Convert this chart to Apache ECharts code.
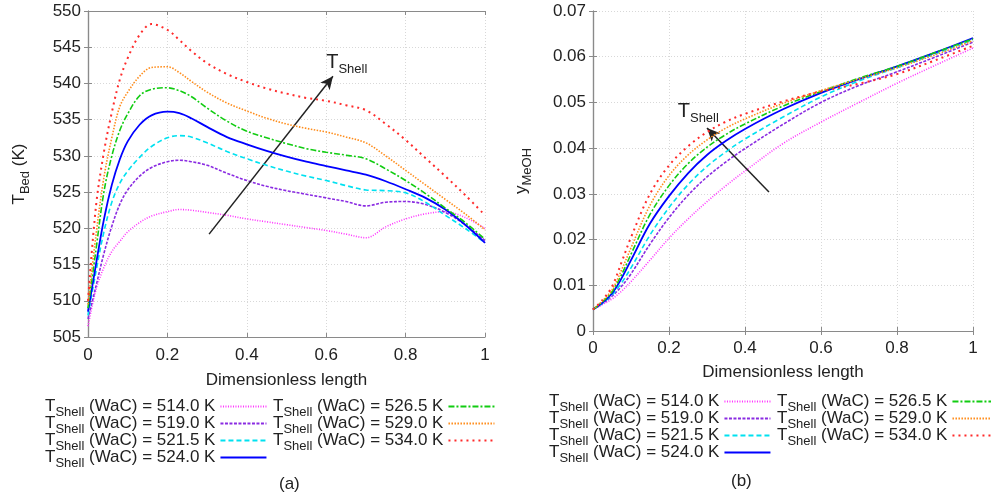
<!DOCTYPE html>
<html><head><meta charset="utf-8">
<script src="https://cdn.jsdelivr.net/npm/echarts@6/dist/echarts.min.js"></script>
<style>html,body{margin:0;padding:0;background:#fff}#c{width:991px;height:498px}</style>
</head><body><div id="c"></div>
<script>
// ---------- data ----------
const shellTemps = ['514.0', '519.0', '521.5', '524.0', '526.5', '529.0', '534.0'];
const xTicks = [0, 0.2, 0.4, 0.6, 0.8, 1];

// (a) bed temperature profiles
const xBed = [0, 0.02, 0.04, 0.06, 0.08, 0.1, 0.13, 0.16, 0.2, 0.23, 0.26, 0.3, 0.35, 0.4, 0.45, 0.5, 0.55, 0.6, 0.65, 0.7, 0.75, 0.8, 0.85, 0.9, 0.95, 1.0];
const tBed514 = [506.5, 511.5, 514.6, 516.8, 518.2, 519.5, 520.8, 521.7, 522.3, 522.6, 522.5, 522.2, 521.8, 521.3, 520.9, 520.5, 520.1, 519.7, 519.2, 518.7, 520.2, 521.3, 522.0, 522.3, 521.5, 520.0];
const tBed519 = [507.5, 512.0, 516.5, 520.3, 523.3, 525.3, 527.2, 528.4, 529.2, 529.4, 529.2, 528.7, 527.6, 526.6, 525.8, 525.2, 524.7, 524.2, 523.7, 523.1, 523.6, 523.7, 523.3, 522.2, 520.5, 518.3];
const tBed521 = [508.0, 514.0, 519.5, 523.6, 526.2, 527.9, 529.8, 531.3, 532.5, 532.8, 532.6, 531.8, 530.6, 529.6, 528.7, 527.9, 527.2, 526.6, 525.9, 525.3, 525.2, 524.9, 523.6, 521.8, 520.0, 518.0];
const tBed524 = [508.5, 515.0, 521.2, 526.0, 529.5, 532.0, 534.3, 535.6, 536.1, 535.9, 535.2, 534.0, 532.6, 531.6, 530.7, 529.9, 529.2, 528.6, 528.0, 527.4, 526.5, 525.4, 524.2, 522.6, 520.5, 518.0];
const tBed526 = [509.0, 517.0, 525.0, 530.0, 533.5, 535.8, 538.3, 539.2, 539.4, 539.0, 538.2, 536.6, 534.8, 533.4, 532.5, 531.7, 531.0, 530.5, 530.1, 529.6, 528.2, 526.6, 524.8, 522.8, 520.8, 518.5];
const tBed529 = [509.5, 519.0, 527.0, 532.5, 536.8, 538.8, 541.0, 542.2, 542.3, 541.5, 540.3, 538.8, 537.3, 536.2, 535.2, 534.4, 533.8, 533.3, 532.6, 531.8, 530.0, 528.0, 526.0, 524.0, 522.0, 519.8];
const tBed534 = [510.0, 523.0, 530.5, 536.0, 540.5, 543.5, 546.7, 548.2, 547.4, 546.0, 544.5, 542.8, 541.3, 540.2, 539.3, 538.6, 538.0, 537.6, 537.0, 536.3, 534.4, 532.2, 529.7, 527.2, 524.6, 521.8];

// (b) methanol mole fraction profiles
const xMeOH = [0, 0.025, 0.05, 0.075, 0.1, 0.15, 0.2, 0.25, 0.3, 0.35, 0.4, 0.5, 0.6, 0.7, 0.8, 0.9, 1.0];
const yMeOH514 = [0.0047, 0.0058, 0.0070, 0.0087, 0.0108, 0.0155, 0.0203, 0.0245, 0.0283, 0.0318, 0.0350, 0.0410, 0.0457, 0.0500, 0.0542, 0.0581, 0.0619];
const yMeOH519 = [0.0047, 0.0060, 0.0076, 0.0098, 0.0125, 0.0190, 0.0248, 0.0297, 0.0337, 0.0370, 0.0399, 0.0452, 0.0500, 0.0537, 0.0567, 0.0599, 0.0632];
const yMeOH521 = [0.0047, 0.0061, 0.0079, 0.0105, 0.0138, 0.0210, 0.0270, 0.0320, 0.0360, 0.0392, 0.0420, 0.0468, 0.0512, 0.0547, 0.0576, 0.0606, 0.0637];
const yMeOH524 = [0.0047, 0.0062, 0.0082, 0.0115, 0.0155, 0.0235, 0.0295, 0.0345, 0.0385, 0.0416, 0.0442, 0.0485, 0.0521, 0.0551, 0.0579, 0.0609, 0.0641];
const yMeOH526 = [0.0047, 0.0064, 0.0086, 0.0123, 0.0168, 0.0255, 0.0318, 0.0366, 0.0402, 0.0430, 0.0453, 0.0492, 0.0524, 0.0553, 0.0579, 0.0609, 0.0639];
const yMeOH529 = [0.0047, 0.0066, 0.0090, 0.0133, 0.0182, 0.0275, 0.0340, 0.0385, 0.0418, 0.0444, 0.0464, 0.0498, 0.0526, 0.0551, 0.0576, 0.0604, 0.0635];
const yMeOH534 = [0.0047, 0.0068, 0.0097, 0.0150, 0.0205, 0.0300, 0.0362, 0.0404, 0.0435, 0.0458, 0.0475, 0.0502, 0.0524, 0.0541, 0.0562, 0.0592, 0.0624];

// arrow annotations (data coordinates)
const arrowBed = [[0.305, 519.2], [0.617, 541.0]];
const arrowBedLabel = [0.60, 542.9];
const arrowMeOH = [[0.463, 0.0304], [0.300, 0.0444]];
const arrowMeOHLabel = [0.223, 0.0480];

// ---------- styles ----------
const FONT = 'Liberation Sans, Arial, Helvetica, sans-serif';
const TXT = '#222';
const colors = ['#ff33ff', '#8a2be2', '#00e1f0', '#0000ff', '#11cc11', '#ff8c1a', '#ff2a2a'];
const dashes = [[1, 1.5], [3, 1.5], [5, 3], 'solid', [6, 2, 2, 2], [1.5, 1.5], [2, 4]];
const widths = [1.6, 1.6, 1.6, 1.8, 1.6, 1.6, 2];
const seriesNames = shellTemps.map(t => 'T_Shell (WaC) = ' + t + ' K');
const bedSets = [tBed514, tBed519, tBed521, tBed524, tBed526, tBed529, tBed534];
const meohSets = [yMeOH514, yMeOH519, yMeOH521, yMeOH524, yMeOH526, yMeOH529, yMeOH534];

const richSub = {
  t: { fontSize: 17, lineHeight: 17, verticalAlign: 'top', color: TXT, fontFamily: FONT },
  m: { fontSize: 17, lineHeight: 17, verticalAlign: 'top', color: TXT, fontFamily: FONT },
  s: { fontSize: 13, lineHeight: 13, padding: [8, 0, 0, 0], verticalAlign: 'top', color: TXT, fontFamily: FONT }
};
const richArrow = {
  t: { fontSize: 20, lineHeight: 20, verticalAlign: 'top', color: TXT, fontFamily: FONT },
  s: { fontSize: 13, lineHeight: 13, padding: [10, 0, 0, 0], verticalAlign: 'top', color: TXT, fontFamily: FONT }
};

function legendFmt(name) {
  const v = name.replace('T_Shell (WaC) = ', '');
  return '{t|T}{s|Shell}{m| (WaC) = ' + v + '}';
}

const gridA = { left: 88, top: 11, width: 397, height: 326 };
const gridB = { left: 593, top: 11, width: 380, height: 320 };

function xAxes(gi, gap, margin) {
  return [{
    gridIndex: gi, type: 'value', min: 0, max: 1, interval: 0.2, position: 'bottom',
    axisLine: { show: true, lineStyle: { color: '#8a8a8a', width: 1.2 } },
    axisTick: { show: true, inside: true, length: 4, lineStyle: { color: '#8a8a8a' } },
    axisLabel: { fontSize: 17, color: TXT, fontFamily: FONT, margin: margin },
    splitLine: { show: true, lineStyle: { color: '#d8d8d8', type: [1, 2] } },
    name: 'Dimensionless length', nameLocation: 'middle', nameGap: gap,
    nameTextStyle: { fontSize: 17, color: TXT, fontFamily: FONT }
  }, {
    gridIndex: gi, type: 'value', min: 0, max: 1, interval: 0.2, position: 'top',
    axisLine: { show: true, lineStyle: { color: '#8a8a8a', width: 1.2 } },
    axisTick: { show: true, inside: true, length: 4, lineStyle: { color: '#8a8a8a' } },
    axisLabel: { show: false }, splitLine: { show: false }
  }];
}
function yAxes(gi, min, max, interval, nameRich, gap) {
  return [{
    gridIndex: gi, type: 'value', min: min, max: max, interval: interval, position: 'left',
    axisLine: { show: true, lineStyle: { color: '#8a8a8a', width: 1.2 } },
    axisTick: { show: true, inside: true, length: 4, lineStyle: { color: '#8a8a8a' } },
    axisLabel: { fontSize: 17, color: TXT, fontFamily: FONT, margin: 7 },
    splitLine: { show: true, lineStyle: { color: '#d8d8d8', type: [1, 2] } },
    name: nameRich, nameLocation: 'middle', nameGap: gap,
    nameTextStyle: { fontSize: 17, color: TXT, fontFamily: FONT, rich: richSub }
  }, {
    gridIndex: gi, type: 'value', min: min, max: max, interval: interval, position: 'right',
    axisLine: { show: true, lineStyle: { color: '#8a8a8a', width: 1.2 } },
    axisTick: { show: true, inside: true, length: 4, lineStyle: { color: '#8a8a8a' } },
    axisLabel: { show: false }, splitLine: { show: false }
  }];
}

const series = [];
seriesNames.forEach((name, i) => {
  const ls = { color: colors[i], width: widths[i], type: dashes[i] };
  const sA = {
    name: name, type: 'line', xAxisIndex: 0, yAxisIndex: 0, showSymbol: false, symbol: 'none',
    smooth: 0.35, color: colors[i], lineStyle: ls, z: 3 + i,
    data: xBed.map((x, k) => [x, bedSets[i][k]])
  };
  const sB = {
    name: name, type: 'line', xAxisIndex: 2, yAxisIndex: 2, showSymbol: false, symbol: 'none',
    smooth: 0.35, color: colors[i], lineStyle: ls, z: 3 + i,
    data: xMeOH.map((x, k) => [x, meohSets[i][k]])
  };
  if (i === 0) {
    const arrowCommon = {
      silent: true, symbol: ['none', 'arrow'], symbolSize: [9, 13],
      lineStyle: { color: '#222', width: 1.5, type: 'solid' }, label: { show: false }
    };
    sA.markLine = Object.assign({}, arrowCommon, { data: [[{ coord: arrowBed[0] }, { coord: arrowBed[1] }]] });
    sB.markLine = Object.assign({}, arrowCommon, { data: [[{ coord: arrowMeOH[0] }, { coord: arrowMeOH[1] }]] });
    const mpLabel = { show: true, position: 'inside', align: 'left', verticalAlign: 'middle', formatter: '{t|T}{s|Shell}', rich: richArrow };
    sA.markPoint = { silent: true, symbol: 'circle', symbolSize: 0, label: mpLabel, data: [{ coord: arrowBedLabel }] };
    sB.markPoint = { silent: true, symbol: 'circle', symbolSize: 0, label: mpLabel, data: [{ coord: arrowMeOHLabel }] };
  }
  series.push(sA, sB);
});

function legend(left, top, names) {
  return {
    left: left, top: top, orient: 'vertical', align: 'right', padding: 0, itemGap: -4,
    itemWidth: 46, itemHeight: 12, data: names, formatter: legendFmt,
    itemStyle: { color: 'rgba(0,0,0,0)', borderColor: 'rgba(0,0,0,0)', borderWidth: 0, opacity: 0 },
    textStyle: { fontSize: 17, color: TXT, fontFamily: FONT, rich: richSub },
    selectedMode: false
  };
}

const chart = echarts.init(document.getElementById('c'), null, { renderer: 'canvas' });
chart.setOption({
  animation: false,
  backgroundColor: '#fff',
  textStyle: { fontFamily: FONT },
  grid: [gridA, gridB],
  xAxis: [...xAxes(0, 35, 10), ...xAxes(1, 33, 9)],
  yAxis: [...yAxes(0, 505, 550, 5, '{t|T}{s|Bed}{m| (K)}', 60), ...yAxes(1, 0, 0.07, 0.01, '{t|y}{s|MeOH}', 63)],
  legend: [
    legend(45, 398, seriesNames.slice(0, 4)),
    legend(273, 398, seriesNames.slice(4)),
    legend(549, 393, seriesNames.slice(0, 4)),
    legend(777, 393, seriesNames.slice(4))
  ],
  graphic: [
    { type: 'text', left: 279, top: 476, style: { text: '(a)', fontSize: 17, fill: TXT, fontFamily: FONT } },
    { type: 'text', left: 731, top: 473, style: { text: '(b)', fontSize: 17, fill: TXT, fontFamily: FONT } }
  ],
  series: series
});
</script></body></html>
